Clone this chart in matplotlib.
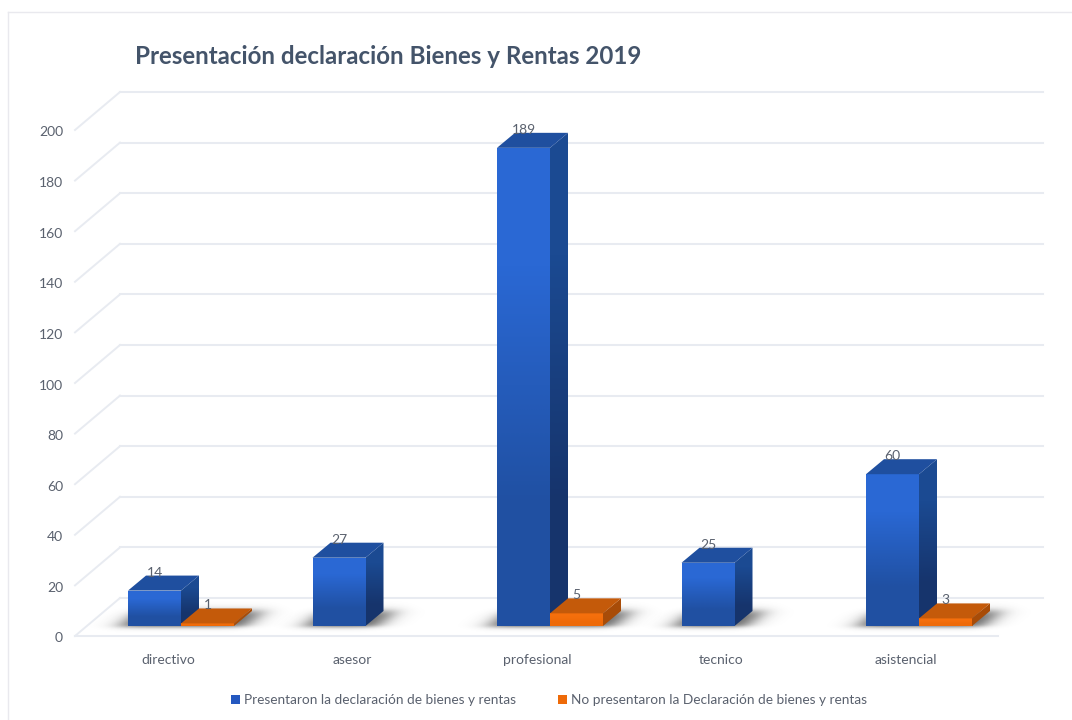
import matplotlib
matplotlib.use("Agg")
import matplotlib.pyplot as plt
import numpy as np
from matplotlib.patches import Patch, Polygon, Rectangle

categories = ["directivo", "asesor", "profesional", "tecnico", "asistencial"]
presentaron = [14, 27, 189, 25, 60]
no_presentaron = [1, None, 5, None, 3]
y_ticks = list(range(0, 201, 20))

title = "Presentación declaración Bienes y Rentas 2019"
legend_labels = ["Presentaron la declaración de bienes y rentas",
                 "No presentaron la Declaración de bienes y rentas"]

W, H = 1072, 720
PX_X = 184.5   # pixels per category
PX_Y = 2.53    # pixels per value unit
X0, Y0 = 181, 626  # pixel of category 0 / value 0
BAR_W = 53 / PX_X
DX, DY = 18 / PX_X, 15 / PX_Y  # bar depth
FLOOR_DROP = 10 / PX_Y
FLOOR_L, FLOOR_R = (75 - X0) / PX_X, (998 - X0) / PX_X
BACK_DX, BACK_DY = 45 / PX_X, 38 / PX_Y

plt.rcParams["font.family"] = ["Lato", "DejaVu Sans"]
fig = plt.figure(figsize=(W / 100, H / 100), dpi=100)
ax = fig.add_axes([0, 0, 1, 1])
ax.set_xlim(-X0 / PX_X, (W - X0) / PX_X)
ax.set_ylim((Y0 - H) / PX_Y, Y0 / PX_Y)
ax.axis("off")

GRID = "#e8ebf1"
TEXT = "#5a616e"
FS = 10


def soft(d, w):
    return 1 / (1 + np.exp(-d / w))


def shadow(x0, x1):
    # blurred dark patch on the floor around the bar foot
    xs = np.linspace(x0 - 60 / PX_X, x1 + DX + 60 / PX_X, 300)
    ys = np.linspace(-8 / PX_Y, DY + 10 / PX_Y, 60)
    gx, gy = np.meshgrid(xs, ys)
    u = gx - gy / DY * DX  # undo the floor skew
    a = (soft(u - (x0 - 8 / PX_X), 6.5 / PX_X) * soft((x1 + 12 / PX_X) - u, 6.5 / PX_X)
         * soft(gy + 1 / PX_Y, 1.2 / PX_Y) * soft(DY - gy, 2 / PX_Y))
    rgba = np.zeros(a.shape + (4,))
    rgba[..., :3] = 0.15
    rgba[..., 3] = a * 0.72
    ax.imshow(rgba, extent=(xs[0], xs[-1], ys[0], ys[-1]), origin="lower", aspect="auto",
              zorder=2, interpolation="bilinear")


def bar(x0, x1, val, front_top, front_bot, top, side_top, side_bot, z):
    grad = np.array([[0.0], [1.0]])
    cmap = matplotlib.colors.LinearSegmentedColormap.from_list("f", [front_top, front_bot])
    img = ax.imshow(grad, extent=(x0, x1, 0, val), cmap=cmap, aspect="auto", zorder=z, interpolation="bilinear")
    img.set_clip_path(Rectangle((x0, 0), x1 - x0, val, transform=ax.transData))
    side = Polygon([(x1, 0), (x1 + DX, DY), (x1 + DX, val + DY), (x1, val)], transform=ax.transData)
    cmap2 = matplotlib.colors.LinearSegmentedColormap.from_list("s", [side_top, side_bot])
    img2 = ax.imshow(grad, extent=(x1, x1 + DX, 0, val + DY), cmap=cmap2, aspect="auto", zorder=z, interpolation="bilinear")
    img2.set_clip_path(side)
    ax.add_patch(Polygon([(x0, val), (x1, val), (x1 + DX, val + DY), (x0 + DX, val + DY)],
                         fc=top, ec="none", zorder=z + 0.1))


# back wall gridlines and left diagonals
for v in y_ticks:
    fy = v - FLOOR_DROP
    ax.plot([FLOOR_L, FLOOR_L + BACK_DX], [fy, fy + BACK_DY], color=GRID, lw=1.4, zorder=1)
    ax.plot([FLOOR_L + BACK_DX, FLOOR_R + BACK_DX], [fy + BACK_DY] * 2, color=GRID, lw=1.5, zorder=1)
    ax.text(FLOOR_L - 12 / PX_X, fy - 1.5 / PX_Y, str(v), ha="right", va="center_baseline", fontsize=FS,
            color=TEXT, zorder=6)
ax.plot([FLOOR_L, FLOOR_R], [-FLOOR_DROP] * 2, color=GRID, lw=1.5, zorder=1)

for i, cat in enumerate(categories):
    left = i - BAR_W
    right = i + BAR_W
    shadow(left, right if no_presentaron[i] is not None else i)
    bar(left, i, presentaron[i], "#2a68d4", "#2050a2", "#1f4f9f", "#1b4a92", "#16346c", 3)
    ax.text(i - BAR_W / 2, presentaron[i] + 19 / PX_Y, str(presentaron[i]), ha="center", va="center_baseline",
            fontsize=FS, color=TEXT, zorder=6)
    if no_presentaron[i] is not None:
        bar(i, right, no_presentaron[i], "#f56f0c", "#ee6a08", "#c45a0a", "#a84c08", "#a84c08", 4)
        ax.text(i + BAR_W / 2, no_presentaron[i] + 19 / PX_Y, str(no_presentaron[i]), ha="center", va="center_baseline",
                fontsize=FS, color=TEXT, zorder=6)
    ax.text(i - 13 / PX_X, -33 / PX_Y, cat, ha="center", va="center_baseline", fontsize=FS, color=TEXT, zorder=6)

# page border of the original screenshot
ax.plot([(8 - X0) / PX_X] * 2, [(Y0 - H) / PX_Y, (Y0 - 12) / PX_Y], color="#e9e9ee", lw=1, zorder=0)
ax.plot([(8 - X0) / PX_X, (W - X0) / PX_X], [(Y0 - 12) / PX_Y] * 2, color="#e9e9ee", lw=1, zorder=0)

ax.text((135 - X0) / PX_X, (Y0 - 56) / PX_Y, title, ha="left", va="center", fontsize=17.4,
        fontweight="bold", color="#44546a", zorder=6)

handles = [Patch(fc="#2458c0", ec="none"), Patch(fc="#ee6a08", ec="none")]
ax.legend(handles, legend_labels, loc="center", bbox_to_anchor=(549 / W, 1 - 700 / H), ncol=2, frameon=False,
          fontsize=9.8, labelcolor=TEXT, handlelength=0.65, handleheight=0.65, handletextpad=0.3, columnspacing=3.1)

fig.savefig("out.png", dpi=100)
